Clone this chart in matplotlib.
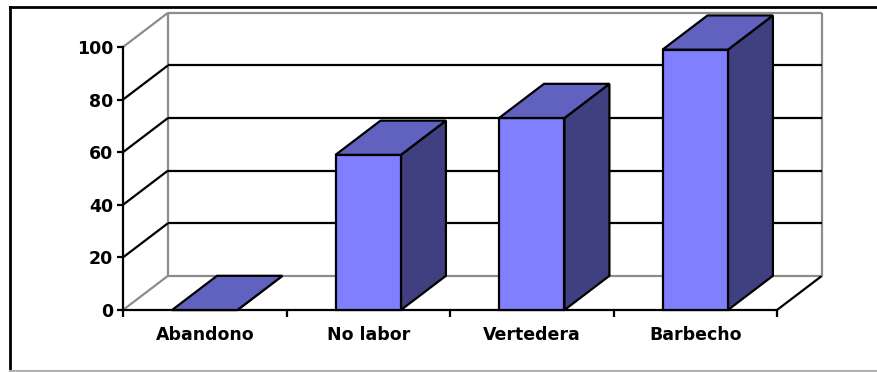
import numpy as np
import matplotlib.pyplot as plt
from matplotlib.patches import Polygon
from matplotlib.lines import Line2D

# ---------------------------------------------------------------
# Data
# ---------------------------------------------------------------
categories = ['Abandono', 'No labor', 'Vertedera', 'Barbecho']
values = [0, 59, 73, 99]
yticks = [0, 20, 40, 60, 80, 100]

# ---------------------------------------------------------------
# Look of the pseudo-3D column chart
# ---------------------------------------------------------------
dx, dy = 0.275, 13.0       # depth offset of the back wall (data units)
bar_w = 0.4                # bar width in category units
c_front = '#8080ff'
c_top = '#6161bf'
c_side = '#404080'
wall_grey = '#8c8c8c'
lw = 1.6

plt.rcParams['font.family'] = 'DejaVu Sans'
plt.rcParams['font.weight'] = 'bold'

fig = plt.figure(figsize=(8.77, 3.72), dpi=100)
ax = fig.add_axes([123 / 877, 62 / 372, 654 / 877, 263 / 372])
ax.set_xlim(0, len(categories))
ax.set_ylim(0, 100)
ax.patch.set_visible(False)

for s in ['top', 'right']:
    ax.spines[s].set_visible(False)
for s in ['left', 'bottom']:
    ax.spines[s].set_color('black')
    ax.spines[s].set_linewidth(lw)

n = len(categories)

def line(xs, ys, color, z=1):
    ax.add_line(Line2D(xs, ys, color=color, lw=lw, clip_on=False, zorder=z,
                       solid_capstyle='butt'))

# walls: floor, side wall and back wall edges
line([0, dx], [0, dy], wall_grey)
line([dx, n + dx], [dy, dy], wall_grey)
line([n, n + dx], [0, dy], 'black')
line([0, dx], [100, 100 + dy], wall_grey)
line([dx, dx], [dy, 100 + dy], wall_grey)
line([dx, n + dx], [100 + dy, 100 + dy], wall_grey)
line([n + dx, n + dx], [dy, 100 + dy], wall_grey)
for v in yticks[1:-1]:
    line([0, dx], [v, v + dy], 'black')
    line([dx, n + dx], [v + dy, v + dy], 'black')

# bars
for i, v in enumerate(values):
    x0 = i + 0.5 - bar_w / 2
    x1 = i + 0.5 + bar_w / 2
    front = [(x0, 0), (x1, 0), (x1, v), (x0, v)]
    top = [(x0, v), (x1, v), (x1 + dx, v + dy), (x0 + dx, v + dy)]
    side = [(x1, 0), (x1 + dx, dy), (x1 + dx, v + dy), (x1, v)]
    for pts, col in [(side, c_side), (front, c_front), (top, c_top)]:
        ax.add_patch(Polygon(pts, closed=True, facecolor=col, edgecolor='black',
                             lw=lw, joinstyle='miter', clip_on=False, zorder=3))

# ticks
ax.set_yticks(yticks)
ax.tick_params(axis='y', length=4, width=lw, pad=3, labelsize=12.5)
ax.set_xticks(np.arange(n + 1))
ax.set_xticklabels([])
ax.tick_params(axis='x', which='major', length=5, width=lw, direction='out')
ax.set_xticks(np.arange(n) + 0.5, minor=True)
ax.set_xticklabels(categories, minor=True)
ax.tick_params(axis='x', which='minor', length=0, pad=11.5, labelsize=12.5)

# outer frame
fig.add_artist(Line2D([10 / 877, 10 / 877], [0, 365 / 372], color='black', lw=2,
                      transform=fig.transFigure))
fig.add_artist(Line2D([10 / 877, 1], [365 / 372, 365 / 372], color='black', lw=2,
                      transform=fig.transFigure))
fig.add_artist(Line2D([10 / 877, 1], [1.5 / 372, 1.5 / 372], color='#b0b0b0', lw=1.5,
                      transform=fig.transFigure))

fig.savefig('out.png', dpi=100)
